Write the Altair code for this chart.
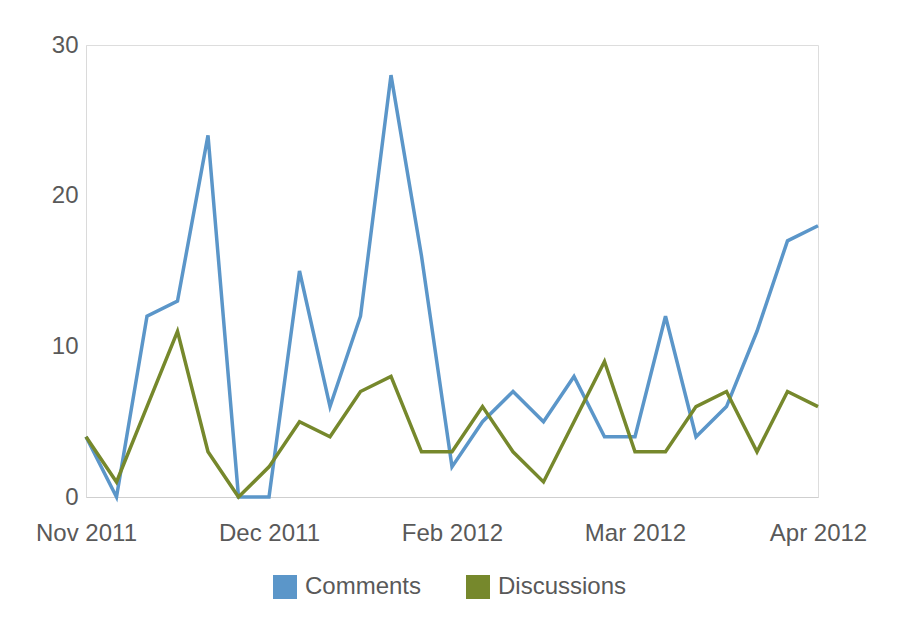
import altair as alt
import pandas as pd

week_index = list(range(25))
comments = [4, 0, 12, 13, 24, 0, 0, 15, 6, 12, 28, 16, 2, 5, 7, 5, 8, 4, 4, 12, 4, 6, 11, 17, 18]
discussions = [4, 1, 6, 11, 3, 0, 2, 5, 4, 7, 8, 3, 3, 6, 3, 1, 5, 9, 3, 3, 6, 7, 3, 7, 6]
tick_positions = [0, 6, 12, 18, 24]
tick_labels = ["Nov 2011", "Dec 2011", "Feb 2012", "Mar 2012", "Apr 2012"]
series_names = ["Comments", "Discussions"]
series_colors = ["#5b96c9", "#76882c"]

rows = []
for i, c, d in zip(week_index, comments, discussions):
    rows.append({"i": i, "series": "Comments", "value": c})
    rows.append({"i": i, "series": "Discussions", "value": d})
df = pd.DataFrame(rows)

label_expr = " : ".join(
    [f"datum.value == {p} ? '{l}'" for p, l in zip(tick_positions, tick_labels)]
) + " : ''"

font = "Liberation Sans"
gray = "#595959"

chart = alt.Chart(df).mark_line(strokeWidth=3.5, strokeJoin="miter").encode(
    x=alt.X("i:Q", scale=alt.Scale(domain=[0, 24], nice=False, zero=False),
            axis=alt.Axis(values=tick_positions, labelExpr=label_expr, title=None,
                          grid=False, ticks=False, domainColor="#cfcfcf",
                          labelFont=font, labelFontSize=24, labelColor=gray,
                          labelPadding=24, labelFlush=False, labelOverlap=False)),
    y=alt.Y("value:Q", scale=alt.Scale(domain=[0, 30], nice=False),
            axis=alt.Axis(values=[0, 10, 20, 30], title=None, grid=False, ticks=False,
                          domainColor="#dadada", labelFont=font, labelFontSize=24,
                          labelColor=gray, labelPadding=8)),
    color=alt.Color("series:N",
                    scale=alt.Scale(domain=series_names, range=series_colors),
                    legend=alt.Legend(title=None, orient="none", legendX=187, legendY=530,
                                      direction="horizontal", symbolType="square",
                                      symbolSize=4, symbolStrokeWidth=22,
                                      labelFont=font, labelFontSize=24, labelColor=gray,
                                      columnPadding=11, labelOffset=8)),
).properties(
    width=732, height=452,
    autosize=alt.AutoSizeParams(type="none"),
    padding={"left": 78, "top": 37, "right": 76, "bottom": 114},
).configure_view(stroke="#ececec", strokeWidth=1).configure(background="white")

chart.save("out.html", embed_options={"renderer": "svg", "actions": False})
